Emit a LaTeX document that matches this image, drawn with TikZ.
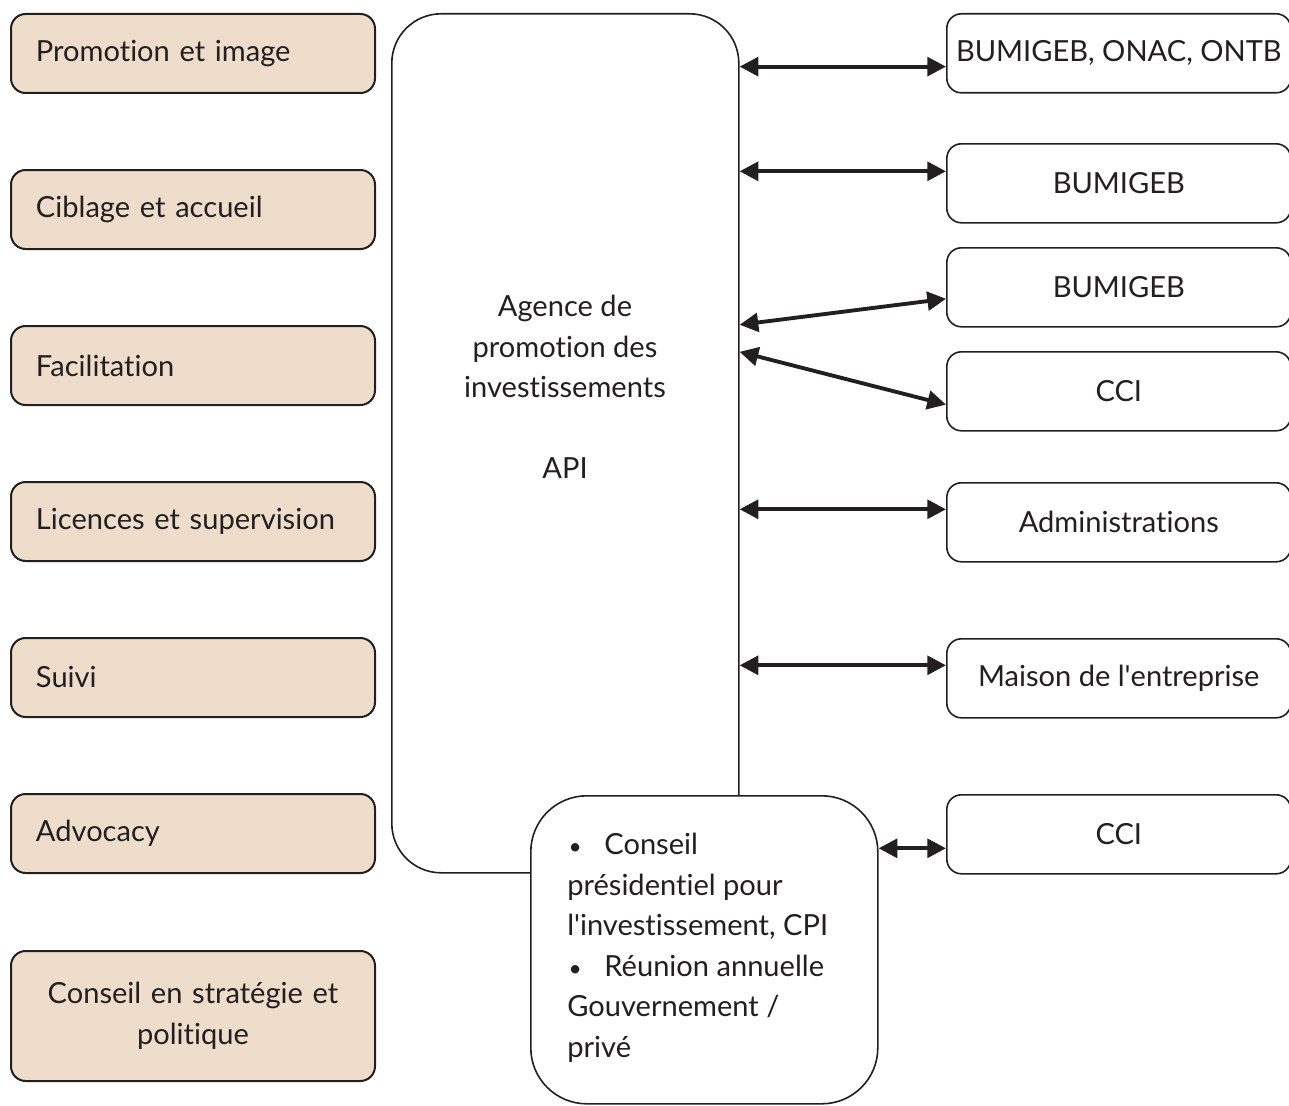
\documentclass[tikz,border=0pt]{standalone}
\usepackage{fontspec}
\setmainfont{Lato}[Ligatures=NoCommon]
\usetikzlibrary{arrows.meta,calc}
\definecolor{tanfill}{RGB}{238,221,203}
\definecolor{ink}{RGB}{35,31,32}
\begin{document}
\begin{tikzpicture}[x=0.75pt,y=-0.75pt,
  txt/.style={font=\fontsize{21.8}{30.4}\selectfont, text=ink},
  lbox/.style={txt, draw=ink, line width=1.5pt, fill=tanfill, rounded corners=11pt, anchor=north west,
    minimum width=273pt, minimum height=59.25pt, text width=235.5pt, align=left, inner xsep=18.75pt},
  rbox/.style={txt, draw=ink, line width=1.2pt, fill=white, rounded corners=11pt, anchor=north west,
    minimum width=258pt, minimum height=59.25pt, align=center, inner xsep=0pt},
  bigbox/.style={draw=ink, line width=1.2pt, fill=white, anchor=north west, minimum width=260.25pt},
  arr/.style={line width=2.9pt, draw=ink, {Triangle[length=14pt,width=14pt]}-{Triangle[length=14pt,width=14pt]}}]
\useasboundingbox (0,0) rectangle (1289,1106);
% left column
\node[lbox] (l1) at (10,13) {Promotion et image};
\node[lbox] (l2) at (10,169) {Ciblage et accueil};
\node[lbox] (l3) at (10,325) {Facilitation};
\node[lbox] (l4) at (10,481) {Licences et supervision};
\node[lbox] (l5) at (10,637) {Suivi};
\node[lbox] (l6) at (10,793) {Advocacy};
\node[lbox, minimum height=97.5pt, align=center] (l7) at (10,950) {Conseil en stratégie et\\politique};
% central boxes
\node[bigbox, rounded corners=37pt, minimum height=644.25pt] (main) at (391,13) {};
\node[txt, align=center] (apitxt) at (565,387) {Agence de\\promotion des\\investissements\\~\\API};
\node[bigbox, rounded corners=42pt, minimum height=231pt] (cpi) at (530,795) {};
\node[txt, align=left, anchor=north west, inner sep=0pt] (cpitxt) at (567,833)
  {\hspace*{1pt}{\fontsize{17}{20}\selectfont•}\hspace{17pt}Conseil\\présidentiel pour\\l\textquotesingle investissement, CPI\\\hspace*{1pt}{\fontsize{17}{20}\selectfont•}\hspace{17pt}Réunion annuelle\\Gouvernement /\\privé};
% right column
\node[rbox] (r1) at (946,13) {BUMIGEB, ONAC, ONTB};
\node[rbox] (r2) at (946,143) {BUMIGEB};
\node[rbox] (r3) at (946,247) {BUMIGEB};
\node[rbox] (r4) at (946,351) {CCI};
\node[rbox] (r5) at (946,482) {Administrations};
\node[rbox] (r6) at (946,638) {Maison de l\textquotesingle entreprise};
\node[rbox] (r7) at (946,794) {CCI};
% connector end points
\coordinate (e1) at ([yshift=-10pt]r1.west);
\coordinate (e2) at ([yshift=9pt]r2.west);
\coordinate (e3) at ([yshift=-8.6pt]r3.west);
\coordinate (e4) at ([yshift=-10pt]r4.west);
\coordinate (e5) at ([yshift=9.75pt]r5.west);
\coordinate (e6) at ([yshift=9.75pt]r6.west);
\coordinate (e7) at ([yshift=-10.5pt]r7.west);
\coordinate (s3) at ([yshift=88.9pt]main.east);
\coordinate (s4) at ([yshift=68.6pt]main.east);
% connectors
\draw[arr] (main.east |- e1) -- (e1);
\draw[arr] (main.east |- e2) -- (e2);
\draw[arr] (s3) -- (e3);
\draw[arr] (s4) -- (e4);
\draw[arr] (main.east |- e5) -- (e5);
\draw[arr] (main.east |- e6) -- (e6);
\draw[arr] (cpi.east |- e7) -- (e7);
\end{tikzpicture}
\end{document}
